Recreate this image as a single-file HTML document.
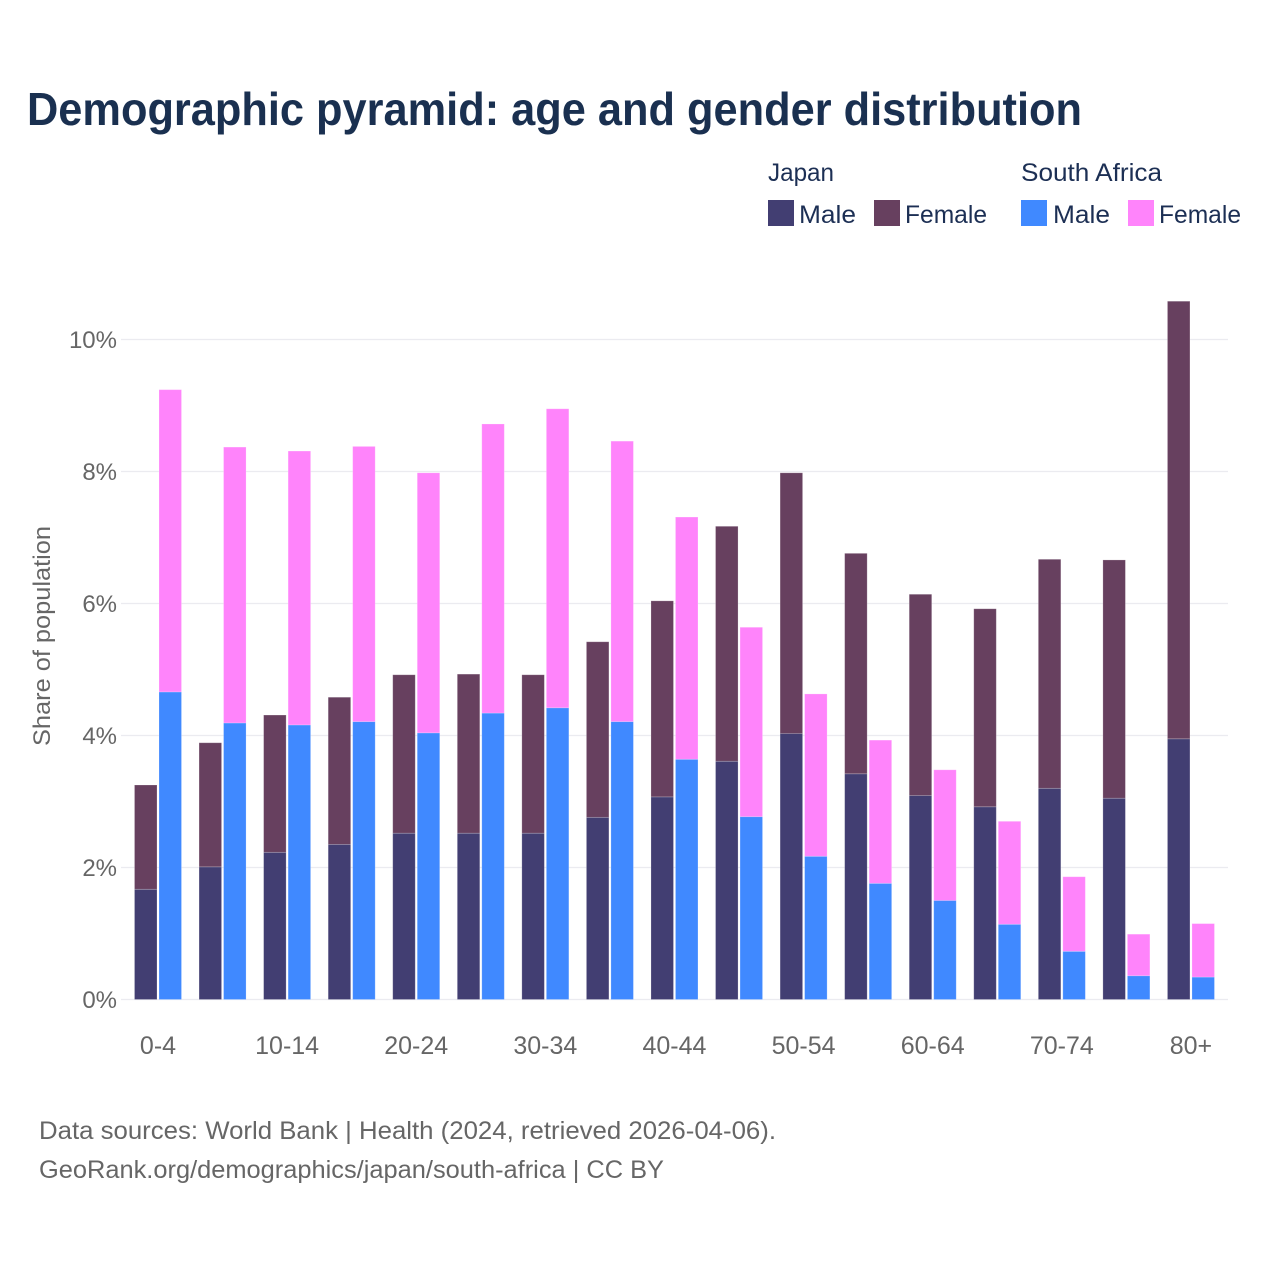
<!DOCTYPE html>
<html lang="en">
<head>
<meta charset="utf-8">
<title>Demographic pyramid</title>
<style>
html,body{margin:0;padding:0;background:#fff;}
svg{display:block;font-family:"Liberation Sans",sans-serif;}
</style>
</head>
<body>
<svg id="chart" width="1280" height="1280" viewBox="0 0 1280 1280" xmlns="http://www.w3.org/2000/svg">
  <rect width="1280" height="1280" fill="#ffffff"/>
  <text x="27" y="125" font-size="46" font-weight="700" fill="#1a3050" textLength="1055" lengthAdjust="spacingAndGlyphs">Demographic pyramid: age and gender distribution</text>

  <g font-size="25" fill="#1c2f54">
    <text x="768" y="181" textLength="66" lengthAdjust="spacingAndGlyphs">Japan</text>
    <text x="1021" y="181" textLength="141" lengthAdjust="spacingAndGlyphs">South Africa</text>
    <rect x="768" y="200" width="26" height="26" fill="#423e72"/>
    <text x="799" y="223" textLength="57" lengthAdjust="spacingAndGlyphs">Male</text>
    <rect x="874" y="200" width="26" height="26" fill="#67405f"/>
    <text x="905" y="223" textLength="82" lengthAdjust="spacingAndGlyphs">Female</text>
    <rect x="1021" y="200" width="26" height="26" fill="#4089ff"/>
    <text x="1053" y="223" textLength="57" lengthAdjust="spacingAndGlyphs">Male</text>
    <rect x="1128" y="200" width="26" height="26" fill="#ff84fb"/>
    <text x="1159" y="223" textLength="82" lengthAdjust="spacingAndGlyphs">Female</text>
  </g>

  <g id="grid"></g>
  <g id="bars"></g>
  <g id="yticks"></g>
  <g id="xticks"></g>

  <text transform="translate(50,636) rotate(-90)" text-anchor="middle" font-size="24" fill="#666666" textLength="220" lengthAdjust="spacingAndGlyphs">Share of population</text>

  <text x="39" y="1139" font-size="25" fill="#666666" textLength="737" lengthAdjust="spacingAndGlyphs">Data sources: World Bank | Health (2024, retrieved 2026-04-06).</text>
  <text x="39" y="1178" font-size="25" fill="#666666" textLength="625" lengthAdjust="spacingAndGlyphs">GeoRank.org/demographics/japan/south-africa | CC BY</text>
</svg>
<script>
const categories = ["0-4","5-9","10-14","15-19","20-24","25-29","30-34","35-39","40-44","45-49","50-54","55-59","60-64","65-69","70-74","75-79","80+"];
const xTickLabels = ["0-4","","10-14","","20-24","","30-34","","40-44","","50-54","","60-64","","70-74","","80+"];
const yTickValues = [0,2,4,6,8,10];
const japanMale = [1.67,2.01,2.23,2.35,2.52,2.52,2.52,2.76,3.07,3.61,4.03,3.42,3.09,2.92,3.20,3.05,3.95];
const japanFemale = [1.58,1.88,2.08,2.23,2.40,2.41,2.40,2.66,2.97,3.56,3.95,3.34,3.05,3.00,3.47,3.61,6.63];
const southAfricaMale = [4.66,4.19,4.16,4.21,4.04,4.34,4.42,4.21,3.64,2.77,2.17,1.76,1.50,1.14,0.73,0.36,0.34];
const southAfricaFemale = [4.58,4.18,4.15,4.17,3.94,4.38,4.53,4.25,3.67,2.87,2.46,2.17,1.98,1.56,1.13,0.63,0.81];

const NS = "http://www.w3.org/2000/svg";
const xStart = 158, xStep = 64.56;
const yZero = 999.5, yPerUnit = 66;
const barWidth = 22.5, barGap = 2;
function xScale(i){ return xStart + i * xStep; }
function yScale(v){ return yZero - v * yPerUnit; }

const grid = document.getElementById("grid");
const yticks = document.getElementById("yticks");
yTickValues.forEach(function(v){
  const line = document.createElementNS(NS, "line");
  
  
  line.setAttribute("x1", 121);
  line.setAttribute("x2", 1228);
  line.setAttribute("y1", yScale(v));
  line.setAttribute("y2", yScale(v));
  line.setAttribute("stroke", "#ebebf0");
  line.setAttribute("stroke-width", 1.3);
  grid.appendChild(line);
  const t = document.createElementNS(NS, "text");
  
  
  t.setAttribute("x", 117);
  t.setAttribute("y", yScale(v) + 8.5);
  t.setAttribute("text-anchor", "end");
  t.setAttribute("font-size", 24);
  t.setAttribute("fill", "#666666");
  t.textContent = v + "%";
  yticks.appendChild(t);
});

const xticks = document.getElementById("xticks");
xTickLabels.forEach(function(label, i){
  if(!label) return;
  const t = document.createElementNS(NS, "text");
  
  
  t.setAttribute("x", xScale(i));
  t.setAttribute("y", 1054);
  t.setAttribute("text-anchor", "middle");
  t.setAttribute("font-size", 25);
  t.setAttribute("fill", "#666666");
  t.textContent = label;
  xticks.appendChild(t);
});

const bars = document.getElementById("bars");
function drawSegment(left, base, value, color, name){
  const r = document.createElementNS(NS, "rect");
  
  
  r.setAttribute("x", left);
  r.setAttribute("y", yScale(base + value));
  r.setAttribute("width", barWidth);
  r.setAttribute("height", yScale(base) - yScale(base + value));
  r.setAttribute("fill", color);
  r.setAttribute("stroke", "#ffffff");
  r.setAttribute("stroke-opacity", 0.25);
  r.setAttribute("stroke-width", 0.8);
  bars.appendChild(r);
}
categories.forEach(function(cat, i){
  const c = xScale(i);
  const leftA = c - barGap / 2 - barWidth;
  const leftB = c + barGap / 2;
  drawSegment(leftA, 0, japanMale[i], "#423e72", "bar-japan-male-" + cat);
  drawSegment(leftA, japanMale[i], japanFemale[i], "#67405f", "bar-japan-female-" + cat);
  drawSegment(leftB, 0, southAfricaMale[i], "#4089ff", "bar-south-africa-male-" + cat);
  drawSegment(leftB, southAfricaMale[i], southAfricaFemale[i], "#ff84fb", "bar-south-africa-female-" + cat);
});
</script>
</body>
</html>
